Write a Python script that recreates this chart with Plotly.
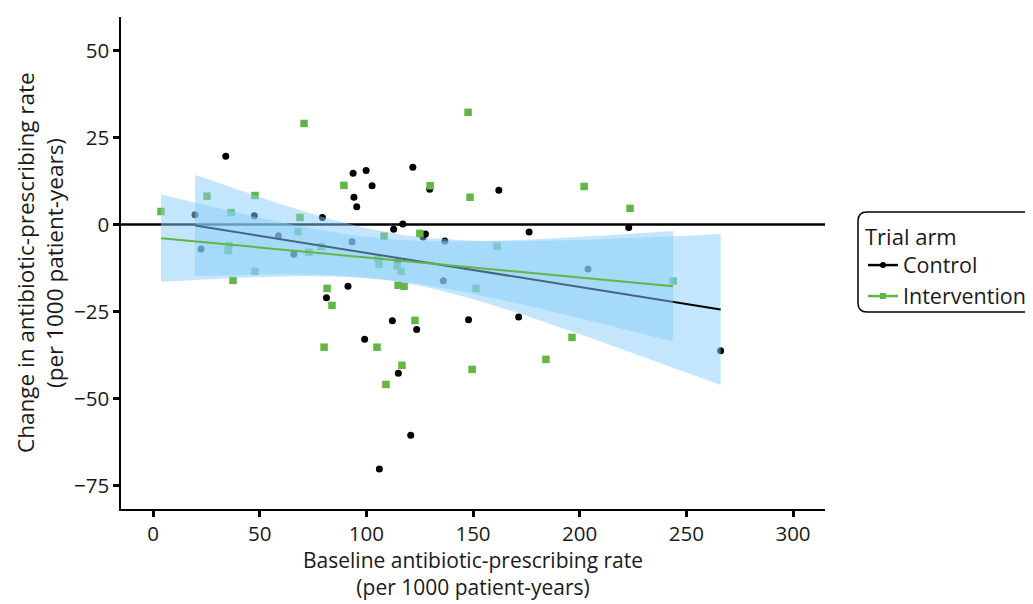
import numpy as np
import plotly.graph_objects as go

# ---------------- data ----------------
control_x = [19.7, 22.5, 34.1, 47.5, 58.8, 66.0, 79.4, 81.3, 91.4, 93.3, 93.8, 94.2, 95.5,
             99.2, 99.9, 102.7, 106.1, 112.2, 112.8, 114.7, 115.0, 117.1, 120.8, 121.8,
             123.6, 126.6, 127.7, 129.7, 136.1, 136.8, 147.9, 162.1, 171.4, 176.3, 203.9,
             223.0, 266.1]
control_y = [2.8, -7.1, 19.6, 2.5, -3.3, -8.6, 2.0, -21.1, -17.8, -5.0, 14.7, 7.8, 5.1,
             -33.0, 15.5, 11.1, -70.3, -27.7, -1.4, -10.5, -42.8, 0.1, -60.6, 16.4,
             -30.2, -3.6, -2.8, 10.1, -16.2, -4.8, -27.4, 9.8, -26.6, -2.2, -12.8,
             -0.9, -36.3]

interv_x = [3.75, 25.3, 35.2, 35.6, 36.6, 37.5, 47.8, 47.8, 68.0, 68.9, 70.8, 73.1, 78.8,
            80.2, 81.6, 83.9, 89.5, 105.0, 105.5, 106.0, 108.3, 109.2, 114.4, 114.9,
            116.3, 116.7, 117.7, 122.8, 125.1, 129.9, 147.7, 148.6, 149.6, 151.4, 161.3,
            184.2, 196.4, 202.1, 223.6, 243.8]
interv_y = [3.7, 8.1, -7.5, -6.1, 3.4, -16.1, 8.3, -13.5, -2.1, 2.0, 29.0, -8.0, -6.4,
            -35.3, -18.4, -23.3, 11.2, -35.3, -9.8, -11.4, -3.4, -46.0, -12.0, -17.5,
            -13.5, -40.5, -17.8, -27.6, -2.6, 11.1, 32.2, 7.8, -41.7, -18.4, -6.3,
            -38.8, -32.5, 10.9, 4.6, -16.3]

arm_names = ["Control", "Intervention"]
x_ticks = [0, 50, 100, 150, 200, 250, 300]
y_ticks = [50, 25, 0, -25, -50, -75]
x_title = "Baseline antibiotic-prescribing rate<br>(per 1000 patient-years)"
y_title_lines = ["Change in antibiotic-prescribing rate", "(per 1000 patient-years)"]
legend_title = "Trial arm"

# t quantiles (0.975) for df = n - 2
T_CRIT = {35: 2.0301, 38: 2.0244}

BLACK = "#000000"
TEXT = "#1a1a1a"
GREEN = "rgb(99,181,68)"
RIBBON = "rgba(135,206,250,0.5)"
FONT = "Open Sans"


def lm_band(xs, ys, npts=80):
    x = np.asarray(xs, float)
    y = np.asarray(ys, float)
    n = len(x)
    b, a = np.polyfit(x, y, 1)
    resid = y - (a + b * x)
    s = np.sqrt(np.sum(resid ** 2) / (n - 2))
    xbar = x.mean()
    sxx = np.sum((x - xbar) ** 2)
    grid = np.linspace(x.min(), x.max(), npts)
    fit = a + b * grid
    se = s * np.sqrt(1.0 / n + (grid - xbar) ** 2 / sxx)
    t = T_CRIT.get(n - 2, 2.03)
    return grid, fit, fit - t * se, fit + t * se


fig = go.Figure()

# points
fig.add_trace(go.Scatter(x=control_x, y=control_y, mode="markers", showlegend=False,
                         marker=dict(symbol="circle", size=7, color=BLACK), hoverinfo="skip"))
fig.add_trace(go.Scatter(x=interv_x, y=interv_y, mode="markers", showlegend=False,
                         marker=dict(symbol="square", size=7.5, color=GREEN), hoverinfo="skip"))

for xs, ys, col in [(control_x, control_y, BLACK), (interv_x, interv_y, GREEN)]:
    g, f, lo, hi = lm_band(xs, ys)
    fig.add_trace(go.Scatter(x=g, y=lo, mode="lines", line=dict(width=0), showlegend=False,
                             hoverinfo="skip"))
    fig.add_trace(go.Scatter(x=g, y=hi, mode="lines", line=dict(width=0), fill="tonexty",
                             fillcolor=RIBBON, showlegend=False, hoverinfo="skip"))
    fig.add_trace(go.Scatter(x=g, y=f, mode="lines", line=dict(color=col, width=2),
                             showlegend=False, hoverinfo="skip"))

# legend entries
fig.add_trace(go.Scatter(x=[None], y=[None], mode="lines+markers", name=arm_names[0],
                         line=dict(color=BLACK, width=2.5),
                         marker=dict(symbol="circle", size=6, color=BLACK)))
fig.add_trace(go.Scatter(x=[None], y=[None], mode="lines+markers", name=arm_names[1],
                         line=dict(color=GREEN, width=2.5),
                         marker=dict(symbol="square", size=6, color=GREEN)))

fig.add_hline(y=0, line=dict(color=BLACK, width=2.5), layer="below")

# page has an 8px body margin, so the figure is sized to fit inside the window
W, H = 1025, 596
ML, MR, MT, MB = 113, 208, 9, 95
PW, PH = W - ML - MR, H - MT - MB


def px2paper(px, py):
    return (px - ML) / PW, (H - MB - py) / PH


def P(px, py):
    xp, yp = px2paper(px, py)
    return f"{xp:.5f},{yp:.5f}"


# rounded legend box (figure pixel coords)
x0p, y0p, x1p, y1p, r = 850, 204, 1040, 304, 9
path = (f"M {P(x0p + r, y0p)} L {P(x1p - r, y0p)} Q {P(x1p, y0p)} {P(x1p, y0p + r)} "
        f"L {P(x1p, y1p - r)} Q {P(x1p, y1p)} {P(x1p - r, y1p)} "
        f"L {P(x0p + r, y1p)} Q {P(x0p, y1p)} {P(x0p, y1p - r)} "
        f"L {P(x0p, y0p + r)} Q {P(x0p, y0p)} {P(x0p + r, y0p)} Z")
fig.add_shape(type="path", path=path, xref="paper", yref="paper",
              line=dict(color=BLACK, width=1.5), fillcolor="white", layer="above")

lx, ly = px2paper(855, 208)

# axis titles as annotations for exact placement
xa, ya = px2paper(465, 594)
fig.add_annotation(text=x_title, xref="paper", yref="paper", x=xa, y=ya,
                   xanchor="center", yanchor="bottom", showarrow=False, borderpad=0,
                   font=dict(family=FONT, size=21, color=TEXT))
for text, px in zip(y_title_lines, [17, 46]):
    ax_, ay_ = px2paper(px, 255)
    fig.add_annotation(text=text, xref="paper", yref="paper", x=ax_, y=ay_,
                       xanchor="center", yanchor="middle", showarrow=False, textangle=-90,
                       font=dict(family=FONT, size=22.5, color=TEXT))

axis_common = dict(showgrid=False, zeroline=False, showline=True, linecolor=BLACK,
                   linewidth=1.5, ticks="outside", ticklen=6, tickwidth=2.5, tickcolor=BLACK,
                   tickfont=dict(family=FONT, size=20.5, color=TEXT), mirror=False)

fig.update_layout(
    width=W, height=H,
    margin=dict(l=ML, r=MR, t=MT, b=MB, pad=0, autoexpand=False),
    plot_bgcolor="white", paper_bgcolor="white",
    font=dict(family=FONT, size=22, color=TEXT),
    xaxis=dict(range=[-15, 315], tickvals=x_ticks, **axis_common),
    yaxis=dict(range=[-81.8, 59.6], tickvals=y_ticks, **axis_common),
    legend=dict(x=lx, y=ly, xanchor="left", yanchor="top", bgcolor="rgba(0,0,0,0)",
                borderwidth=0, font=dict(family=FONT, size=21.5, color=TEXT),
                title=dict(text=legend_title, font=dict(family=FONT, size=22, color=TEXT)),
                itemwidth=30, tracegroupgap=0, traceorder="normal"),
)

fig.write_html("out.html")
